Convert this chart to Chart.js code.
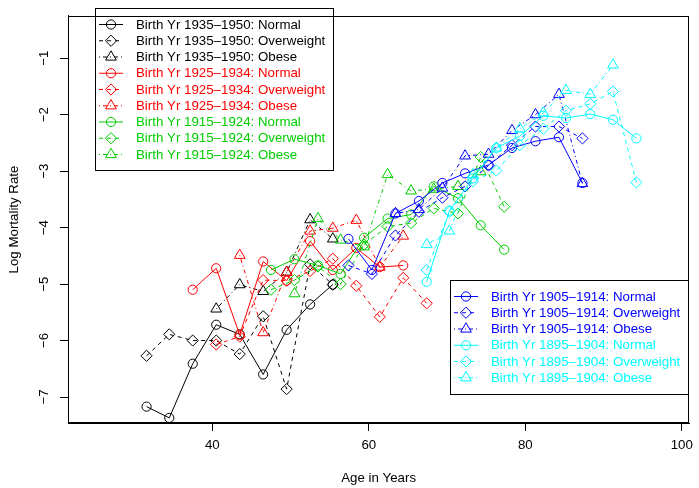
<!DOCTYPE html>
<html>
<head>
<meta charset="utf-8">
<script src="https://cdn.jsdelivr.net/npm/chart.js@4.4.1/dist/chart.umd.min.js"></script>
<style>
html,body{margin:0;padding:0;background:#fff;}
#c{display:block;}
</style>
</head>
<body>
<canvas id="c" width="699" height="488"></canvas>
<script>
// ---- data ----
const cohorts = ['1935–1950', '1925–1934', '1915–1924', '1905–1914', '1895–1904'];
const bmiGroups = ['Normal', 'Overweight', 'Obese'];
const xTicks = [40, 60, 80, 100];
const yTicks = [-7, -6, -5, -4, -3, -2, -1];

const ages1935 = [31.6, 34.5, 37.5, 40.5, 43.5, 46.5, 49.5, 52.5, 55.4];
const normal1935 = [-7.17, -7.37, -6.41, -5.72, -5.89, -6.60, -5.81, -5.36, -5.01];
const over1935 = [-6.27, -5.89, -6.00, -6.00, -6.24, -5.57, -6.86, -4.65, -5.01];
const obese1935 = [null, null, null, -5.44, -5.01, -5.13, -4.79, -3.86, -4.20];

const ages1925 = [37.5, 40.5, 43.5, 46.5, 49.5, 52.5, 55.4, 58.4, 61.4, 64.4, 67.4];
const normal1925 = [-5.10, -4.72, -5.90, -4.60, -4.94, -4.24, -4.75, -4.36, -4.70, -4.67, null];
const over1925 = [null, -6.07, -5.93, -4.93, -4.94, -4.77, -4.55, -5.03, -5.58, -4.89, -5.34];
const obese1925 = [null, null, -4.49, -5.86, -4.79, -4.06, -4.01, -3.87, -4.70, -4.15, null];

const ages1915 = [47.5, 50.5, 53.5, 56.4, 59.4, 62.4, 65.4, 68.3, 71.4, 74.3, 77.3];
const normal1915 = [-4.75, -4.56, -4.67, -4.82, -4.18, -3.84, -3.77, -3.27, -3.48, -3.96, -4.39];
const over1915 = [-5.10, -4.93, -4.69, -5.00, -4.30, -3.98, -3.92, -3.66, -3.75, -2.75, -3.63];
const obese1915 = [null, -5.17, -3.84, -4.22, -4.34, -3.06, -3.35, -3.32, -3.27, -3.01, null];

const ages1905 = [57.4, 60.4, 63.4, 66.4, 69.4, 72.3, 75.3, 78.3, 81.3, 84.3, 87.3];
const normal1905 = [-4.20, -4.75, -3.75, -3.53, -3.21, -3.04, -2.89, -2.59, -2.47, -2.40, -3.21];
const over1905 = [-4.67, -4.82, -4.14, -3.72, -3.47, -3.27, -2.90, -2.54, -2.21, -2.21, -2.42];
const obese1905 = [null, null, -3.75, -3.68, -3.30, -2.73, -2.70, -2.28, -2.00, -1.64, -3.22];

const ages1895 = [67.4, 70.3, 73.3, 76.3, 79.3, 82.3, 85.2, 88.3, 91.2, 94.2];
const normal1895 = [-4.96, -3.70, -3.13, -2.59, -2.38, -2.02, -2.06, -1.99, -2.09, -2.42];
const over1895 = [-4.75, -3.72, -3.18, -2.99, -2.54, -2.25, -1.93, -1.81, -1.59, -3.20];
const obese1895 = [-4.30, -4.06, -3.06, -2.59, -2.25, -1.97, -1.57, -1.64, -1.12, null];

// ---- styling ----
const colors = ['#000000', '#FF0000', '#00CD00', '#0000FF', '#00FFFF'];
const styles = [
  {pointStyle: 'circle', radius: 4.6, dash: []},
  {pointStyle: 'rectRot', radius: 5.6, dash: [4, 4]},
  {pointStyle: 'triangle', radius: 6.2, dash: [1, 3, 4, 3]}
];
const FONT = '"Liberation Sans", Arial, Helvetica, sans-serif';
const FS = 13.3;

const cohortData = [
  [ages1935, [normal1935, over1935, obese1935]],
  [ages1925, [normal1925, over1925, obese1925]],
  [ages1915, [normal1915, over1915, obese1915]],
  [ages1905, [normal1905, over1905, obese1905]],
  [ages1895, [normal1895, over1895, obese1895]]
];

const datasets = [];
cohortData.forEach(function (cd, ci) {
  const ages = cd[0];
  cd[1].forEach(function (vals, gi) {
    const pts = [];
    ages.forEach(function (a, k) { if (vals[k] !== null) pts.push({x: a, y: vals[k]}); });
    const st = styles[gi];
    datasets.push({
      label: 'Birth Yr ' + cohorts[ci] + ': ' + bmiGroups[gi],
      data: pts,
      borderColor: colors[ci],
      backgroundColor: 'rgba(0,0,0,0)',
      borderWidth: 1,
      borderDash: st.dash,
      pointStyle: st.pointStyle,
      pointRadius: st.radius,
      pointBorderColor: colors[ci],
      pointBackgroundColor: 'rgba(0,0,0,0)',
      pointBorderWidth: 1,
      pointHoverRadius: st.radius,
      tension: 0,
      fill: false,
      order: -datasets.length,
      _cohort: ci,
      _group: gi
    });
  });
});

// legend + box plugin
const rPlot = {
  id: 'rPlot',
  afterDatasetsDraw(chart) {
    const ctx = chart.ctx;
    const drawLegend = function (bx, by, bw, bh, idxs) {
      ctx.save();
      ctx.fillStyle = '#fff';
      ctx.fillRect(bx, by, bw, bh);
      ctx.strokeStyle = '#000';
      ctx.lineWidth = 1;
      ctx.setLineDash([]);
      ctx.strokeRect(bx + 0.5, by + 0.5, bw, bh);
      idxs.forEach(function (di, r) {
        const ds = chart.data.datasets[di];
        const y = by + 16.5 + r * 16.25;
        ctx.strokeStyle = ds.borderColor;
        ctx.lineWidth = 1;
        ctx.setLineDash(ds.borderDash);
        ctx.beginPath();
        ctx.moveTo(bx + 4, y);
        ctx.lineTo(bx + 28, y);
        ctx.stroke();
        ctx.setLineDash([]);
        ctx.fillStyle = 'rgba(0,0,0,0)';
        Chart.helpers.drawPoint(ctx, {pointStyle: ds.pointStyle, radius: ds.pointRadius, rotation: 0, borderWidth: 1}, bx + 16, y);
        ctx.fillStyle = ds.borderColor;
        ctx.font = FS + 'px ' + FONT;
        ctx.textBaseline = 'middle';
        ctx.textAlign = 'left';
        ctx.fillText(ds.label, bx + 41, y + 0.5);
      });
      ctx.restore();
    };
    drawLegend(95, 8, 238, 162, [0, 1, 2, 3, 4, 5, 6, 7, 8]);
    drawLegend(450, 280, 238, 114, [9, 10, 11, 12, 13, 14]);
  },
  afterDraw(chart) {
    const a = chart.chartArea;
    const ctx = chart.ctx;
    ctx.save();
    ctx.strokeStyle = '#000';
    ctx.lineWidth = 1;
    ctx.setLineDash([]);
    ctx.strokeRect(Math.round(a.left) + 0.5, Math.round(a.top) + 0.5, Math.round(a.right - a.left) - 1, Math.round(a.bottom - a.top) - 1);
    ctx.restore();
  }
};

new Chart(document.getElementById('c'), {
  type: 'line',
  data: {datasets: datasets},
  plugins: [rPlot],
  options: {
    responsive: false,
    animation: false,
    devicePixelRatio: 1,
    layout: {padding: {top: 5, right: 4, left: 0, bottom: 0}},
    plugins: {legend: {display: false}, tooltip: {enabled: false}},
    scales: {
      x: {
        type: 'linear',
        min: 21.56, max: 100.94,
        afterBuildTicks: function (s) { s.ticks = xTicks.map(function (v) { return {value: v}; }); },
        afterFit: function (s) { s.height = 65; },
        grid: {drawOnChartArea: false, drawTicks: true, tickLength: 8, color: '#000', lineWidth: 1},
        border: {display: true, color: '#000', width: 1},
        ticks: {color: '#000', font: {family: FONT, size: FS}, padding: 6, maxRotation: 0, autoSkip: false,
          callback: function (v) { return String(v); }},
        title: {display: true, text: 'Age in Years', color: '#000', font: {family: FONT, size: FS}, padding: {top: 0, bottom: 2}}
      },
      y: {
        type: 'linear',
        min: -7.46, max: -0.253,
        afterBuildTicks: function (s) { s.ticks = yTicks.map(function (v) { return {value: v}; }); },
        afterFit: function (s) { s.width = 68; },
        grid: {drawOnChartArea: false, drawTicks: true, tickLength: 8, color: '#000', lineWidth: 1},
        border: {display: true, color: '#000', width: 1},
        ticks: {color: '#000', font: {family: FONT, size: FS}, padding: 8, minRotation: 90, maxRotation: 90,
          crossAlign: 'center', autoSkip: false,
          callback: function (v) { return (v < 0 ? '\u2212' : '') + Math.abs(v); }},
        title: {display: true, text: 'Log Mortality Rate', color: '#000', font: {family: FONT, size: FS}, padding: {top: 6, bottom: 0}}
      }
    }
  }
});
</script>
</body>
</html>
